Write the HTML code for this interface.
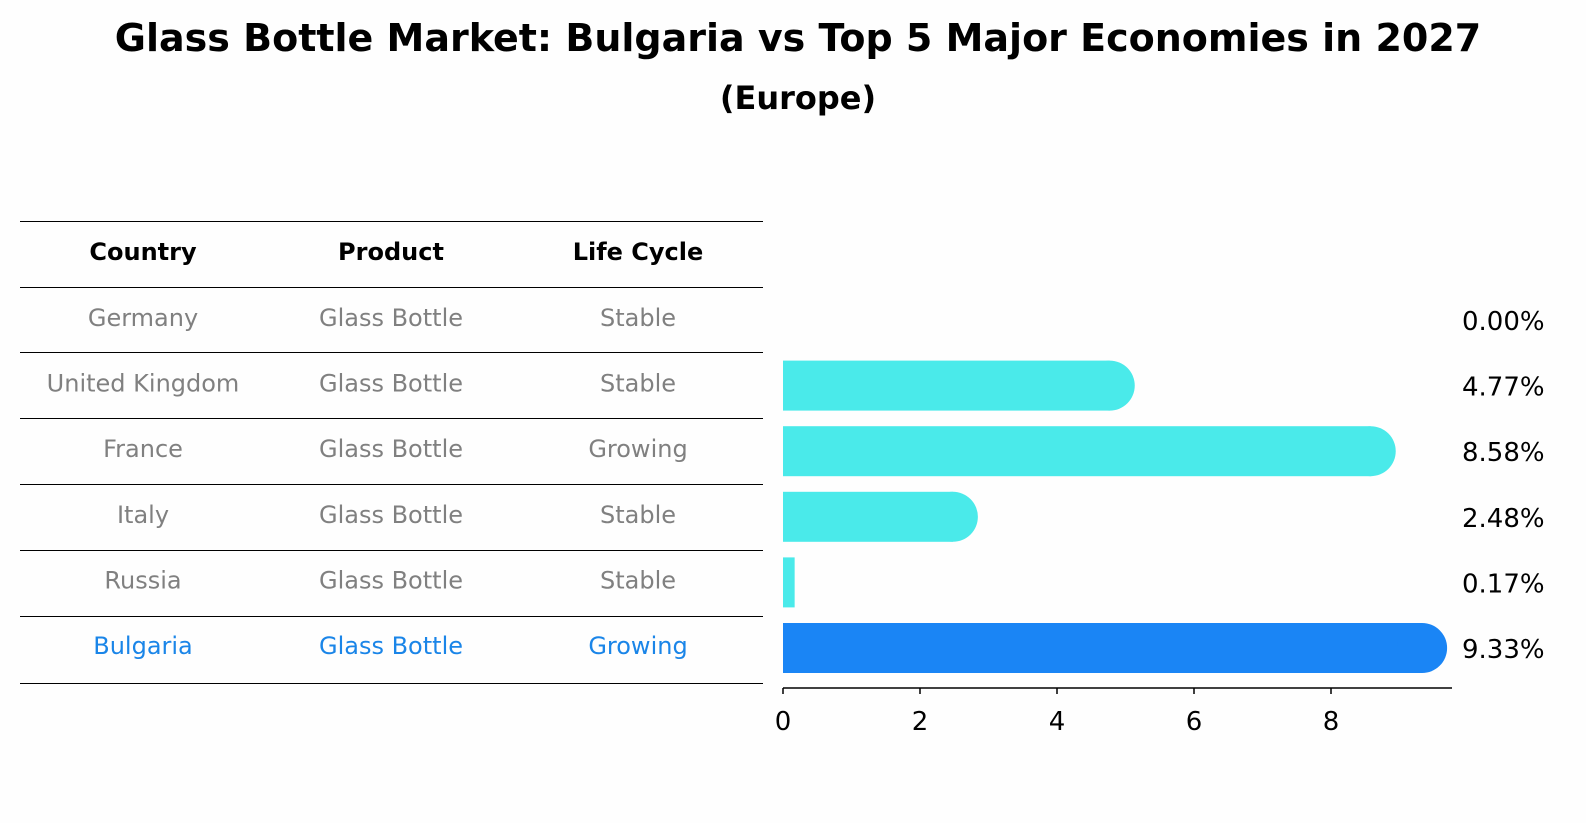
<!DOCTYPE html>
<html><head><meta charset="utf-8"><style>
body{margin:0;background:#fefefe;}
svg{display:block;font-family:"DejaVu Sans","Liberation Sans",sans-serif;}
</style></head><body>
<svg width="1586" height="823" viewBox="0 0 1586 823">
<text x="798" y="51" text-anchor="middle" font-size="38" font-weight="bold">Glass Bottle Market: Bulgaria vs Top 5 Major Economies in 2027</text>
<text x="798" y="109" text-anchor="middle" font-size="32" font-weight="bold">(Europe)</text>
<g id="table"></g>
<g id="bars"></g>
</svg>
<script>
const countries=["Germany","United Kingdom","France","Italy","Russia","Bulgaria"];
const products=["Glass Bottle","Glass Bottle","Glass Bottle","Glass Bottle","Glass Bottle","Glass Bottle"];
const lifecycles=["Stable","Stable","Growing","Stable","Stable","Growing"];
const values=[0.00,4.77,8.58,2.48,0.17,9.33];
const ticks=[0,2,4,6,8];
const NS="http://www.w3.org/2000/svg";
const tbl=document.getElementById('table'),bg=document.getElementById('bars');
function mk(p,t,a){const e=document.createElementNS(NS,t);for(const k in a)e.setAttribute(k,a[k]);p.appendChild(e);return e;}
const lineYs=[221,287,352,418,484,550,616,683];
lineYs.forEach(y=>{const l=mk(tbl,'line',{x1:20,x2:763,y1:y+0.5,y2:y+0.5,stroke:'#000','stroke-width':1});

});
const colX=[143,391,638];
["Country","Product","Life Cycle"].forEach((h,i)=>{const t=mk(tbl,'text',{x:colX[i],y:260,'text-anchor':'middle','font-size':24,'font-weight':'bold'});t.textContent=h;

});
const rowY=i=>318+i*65.6;
countries.forEach((c,i)=>{const col=i===5?'#1a85e8':'#808080';
[c,products[i],lifecycles[i]].forEach((v,j)=>{const t=mk(tbl,'text',{x:colX[j],y:rowY(i)+8,'text-anchor':'middle','font-size':24,fill:col});t.textContent=v;

});});
const x=v=>783+v*68.5;
values.forEach((v,i)=>{const cy=rowY(i)+2,col=i===5?'#1a85f5':'#4aeaea';
if(v>0){const r=mk(bg,'rect',{x:783,y:cy-25,width:x(v)-783,height:50,fill:col});


if(v>1){const c=mk(bg,'circle',{cx:x(v),cy:cy,r:25,fill:col});

}}
const t=mk(bg,'text',{x:1462,y:cy+10,'font-size':26});t.textContent=v.toFixed(2)+'%';

});
const ax=mk(bg,'line',{x1:783,x2:1452,y1:688,y2:688,stroke:'#000','stroke-width':1.5});


ticks.forEach(tv=>{const l=mk(bg,'line',{x1:x(tv),x2:x(tv),y1:688,y2:694,stroke:'#000','stroke-width':1.5});


const t=mk(bg,'text',{x:x(tv),y:730,'text-anchor':'middle','font-size':26});t.textContent=tv;

});
</script>
</body></html>
